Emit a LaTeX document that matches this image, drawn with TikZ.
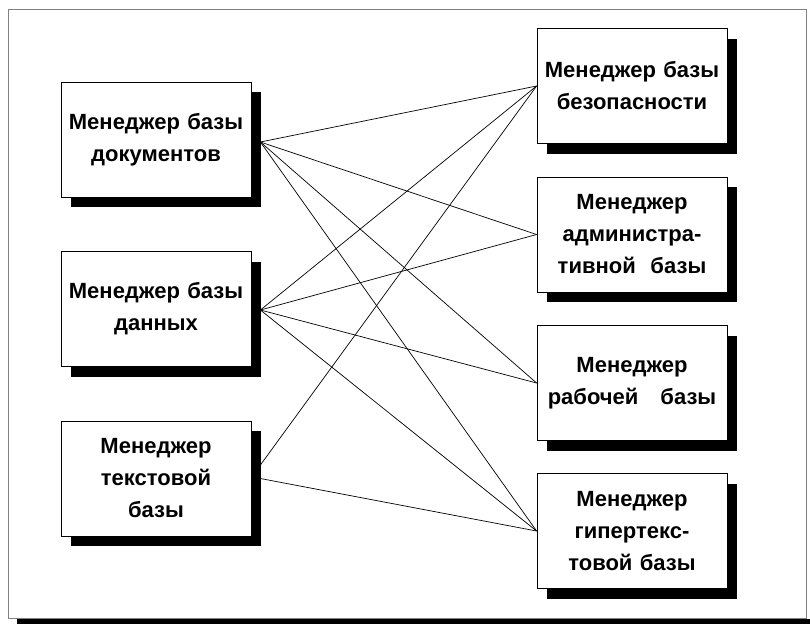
\documentclass[tikz,border=0pt]{standalone}
\usepackage{fontspec}
\setmainfont{Liberation Sans}
\usetikzlibrary{shadows}
\begin{document}
\begin{tikzpicture}[x=1pt,y=-1pt,
  mgr/.style={draw=black, line width=0.8pt, fill=white,
    minimum width=190pt, minimum height=115pt, text width=186pt,
    align=center, inner sep=0pt,
    font=\fontsize{22}{32}\selectfont\bfseries,
    drop shadow={shadow xshift=10pt, shadow yshift=-10pt, fill=black, opacity=1}},
  link/.style={draw=black, line width=0.7pt}]
\useasboundingbox (0,0) rectangle (810,624);
% outer frame with its bottom shadow
\fill[black] (17,619) rectangle (810,624);
\draw[gray, line width=0.8pt] (8,9) rectangle (806,618);

% managers on the left
\node[mgr] (L1) at (156,139.5) {Менеджер базы\\документов};
\node[mgr] (L2) at (156,309) {Менеджер базы\\данных};
\node[mgr] (L3) at (156,478.5) {Менеджер\\текстовой\\базы};

% managers on the right
\node[mgr] (R1) at (632,86) {Менеджер базы\\безопасности};
\node[mgr] (R2) at (632,234.5) {Менеджер\\администра-\\тивной\ \ базы};
\node[mgr] (R3) at (632,383) {Менеджер\\рабочей\ \ \ базы};
\node[mgr] (R4) at (632,531) {Менеджер\\гипертекс-\\товой базы};

% attachment points on the shadow edge of the left boxes
\coordinate (l1) at ([xshift=9pt,yshift=-2.5pt]L1.east);
\coordinate (l2) at ([xshift=9pt,yshift=-1pt]L2.east);
\coordinate (l3a) at ([xshift=9pt,yshift=13.5pt]L3.east);
\coordinate (l3b) at ([xshift=9pt]L3.east);

% links
\foreach \r in {R1,R2,R3,R4} {
  \draw[link] (l1) -- (\r.west);
  \draw[link] (l2) -- (\r.west);
}
\draw[link] (l3a) -- (R1.west);
\draw[link] (l3b) -- (R4.west);
\end{tikzpicture}
\end{document}
